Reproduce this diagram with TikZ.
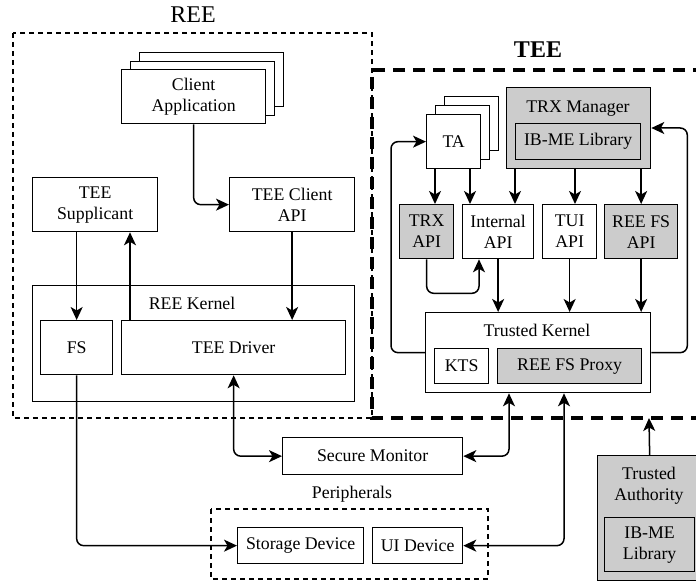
\documentclass[tikz,border=0pt]{standalone}
\usepackage{fontspec}
\setmainfont{Liberation Serif}
\usetikzlibrary{arrows.meta}
\definecolor{boxgray}{HTML}{CCCCCC}

\tikzset{
	>={Stealth[length=13pt,width=12pt,inset=3.5pt]},
	blk/.style={draw, line width=1.3pt, fill=white, align=center, inner sep=0pt, anchor=north west},
	gblk/.style={blk, fill=boxgray},
	conn/.style={line width=1.5pt, rounded corners=7pt, ->},
	dconn/.style={conn, <->},
	zone/.style={line width=1.3pt, dash pattern=on 5pt off 4pt},
	tzone/.style={line width=4pt, dash pattern=on 12pt off 8pt},
	biglabel/.style={font=\fontsize{24}{28}\selectfont, anchor=base},
}

\begin{document}
\begin{tikzpicture}[x=1pt, y=-1pt, font=\fontsize{17.8}{21}\selectfont]
	\useasboundingbox (0,0) rectangle (696,585);

	% REE / TEE / peripherals zones
	\draw[zone] (13,33) rectangle (372,418);
	\node[biglabel] (reelabel) at (193,23) {REE};
	\draw[tzone] (705,70) -- (372,70) -- (372,418) -- (705,418);
	\node[biglabel, font=\fontsize{24}{28}\selectfont\bfseries] (teelabel) at (538,58) {TEE};
	\draw[zone] (211,509) rectangle (488,579);
	\node[anchor=base] (perlabel) at (352,498) {Peripherals};

	% REE side
	\node[blk, minimum width=144pt, minimum height=54pt] (ca3) at (139,52) {};
	\node[blk, minimum width=144pt, minimum height=54pt] (ca2) at (130,61) {};
	\node[blk, minimum width=144pt, minimum height=54pt] (ca) at (121,69) {Client\\Application};
	\node[blk, minimum width=125pt, minimum height=54pt] (sup) at (32,177) {TEE\\Supplicant};
	\node[blk, minimum width=125pt, minimum height=54pt] (capi) at (229,177) {TEE Client\\API};
	\node[blk, minimum width=322pt, minimum height=116pt] (kern) at (32,285) {};
	\node[anchor=base] (kernlabel) at (192,309) {REE Kernel};
	\node[blk, minimum width=72pt, minimum height=54pt] (fs) at (40,320) {FS};
	\node[blk, minimum width=224pt, minimum height=54pt] (drv) at (121,320) {TEE Driver};

	% monitor and devices
	\node[blk, minimum width=180pt, minimum height=37pt] (smon) at (282,437) {Secure Monitor};
	\node[blk, minimum width=126pt, minimum height=36pt] (stor) at (237,527) {Storage Device};
	\node[blk, minimum width=90pt, minimum height=36pt] (uid) at (372,527) {UI Device};

	% TEE side
	\node[blk, minimum width=54pt, minimum height=54pt] (ta3) at (444,96) {};
	\node[blk, minimum width=54pt, minimum height=54pt] (ta2) at (435,105) {};
	\node[blk, minimum width=54pt, minimum height=54pt] (ta) at (426,114) {TA};
	\node[gblk, minimum width=144pt, minimum height=81pt] (trxm) at (506,87) {};
	\node[anchor=base] (trxmlabel) at (578,113) {TRX Manager};
	\node[gblk, minimum width=125pt, minimum height=36pt] (ibm) at (515,123) {IB-ME Library};
	\node[gblk, minimum width=54pt, minimum height=54pt] (trxapi) at (399,204) {TRX\\API};
	\node[blk, minimum width=71pt, minimum height=54pt] (iapi) at (462,204) {Internal\\API};
	\node[blk, minimum width=54pt, minimum height=54pt] (tuiapi) at (542,204) {TUI\\API};
	\node[gblk, minimum width=73pt, minimum height=54pt] (rfsapi) at (604,204) {REE FS\\API};
	\node[blk, minimum width=225pt, minimum height=80pt] (tk) at (425,312) {};
	\node[anchor=base] (tklabel) at (537,337) {Trusted Kernel};
	\node[blk, minimum width=54pt, minimum height=35pt] (kts) at (434,348) {KTS};
	\node[gblk, minimum width=144pt, minimum height=35pt] (proxy) at (497,348) {REE FS Proxy};

	% trusted authority
	\node[gblk, minimum width=104pt, minimum height=125pt] (tauth) at (597,455) {};
	\node[align=center] (tauthlabel) at (649,485.5) {Trusted\\Authority};
	\node[gblk, minimum width=90pt, minimum height=54pt] (ibt) at (604,517) {IB-ME\\Library};
	\coordinate (teeb) at (649,418);

	% connectors, REE side
	\draw[conn] (ca.south) |- (capi.west);
	\draw[conn] (fs.north |- sup.south) -- (fs.north);
	\draw[conn] ([xshift=9pt]drv.north west) -- ([xshift=9pt]drv.north west |- sup.south);
	\draw[conn] (capi.south) -- (capi.south |- drv.north);
	\draw[conn] (fs.south) |- (stor.west);
	\draw[dconn] (drv.south) |- (smon.west);

	% connectors, TEE side
	\draw[conn] ([xshift=9pt]ta.south west) -- ([xshift=9pt]ta.south west |- trxapi.north);
	\draw[conn] ([xshift=44pt]ta.south west) -- ([xshift=44pt]ta.south west |- iapi.north);
	\draw[conn] ([xshift=9pt]trxm.south west) -- ([xshift=9pt]trxm.south west |- iapi.north);
	\draw[conn] ([xshift=69pt]trxm.south west) -- ([xshift=69pt]trxm.south west |- tuiapi.north);
	\draw[conn] (rfsapi.north |- trxm.south) -- (rfsapi.north);
	\draw[conn] (trxapi.south) -- ++(0,34) -| ([xshift=17pt]iapi.south west);
	\draw[conn] (iapi.south) -- (iapi.south |- tk.north);
	\draw[conn] (tuiapi.south) -- (tuiapi.south |- tk.north);
	\draw[conn] (rfsapi.south) -- (rfsapi.south |- tk.north);
	\draw[conn] (tk.west) -- ++(-34,0) |- (ta.west);
	\draw[conn] (tk.east) -- ++(36,0) |- ([yshift=-41pt]trxm.north east);
	\draw[dconn] ([xshift=84pt]tk.south west) |- (smon.east);
	\draw[dconn] ([xshift=139pt]tk.south west) |- (uid.east);
	\draw[conn] (tauth.north) -- (teeb);

\end{tikzpicture}
\end{document}
